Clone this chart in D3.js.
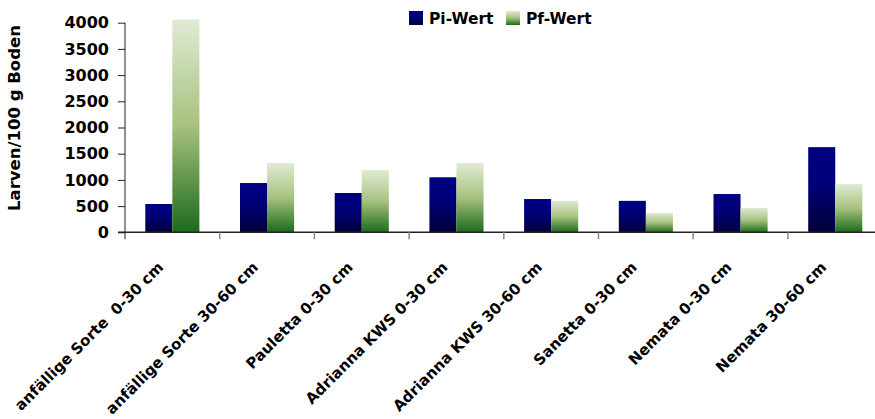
<!DOCTYPE html>
<html>
<head>
<meta charset="utf-8">
<script src="https://cdn.jsdelivr.net/npm/d3@7"></script>
<style>
  body { margin: 0; background: #fff; }
  svg text { font-family: "DejaVu Sans", sans-serif; font-weight: bold; fill: #000; }
</style>
</head>
<body>
<svg width="875" height="419"></svg>
<script>
// categories and series
const categories = ["anfällige Sorte  0-30 cm", "anfällige Sorte 30-60 cm", "Pauletta 0-30 cm",
  "Adrianna KWS 0-30 cm", "Adrianna KWS 30-60 cm", "Sanetta 0-30 cm", "Nemata 0-30 cm", "Nemata 30-60 cm"];
const series = ["Pi-Wert", "Pf-Wert"];
const piWert = [540, 940, 750, 1050, 635, 600, 730, 1625];
const pfWert = [4060, 1320, 1190, 1320, 600, 370, 465, 920];
const yTicks = [0, 500, 1000, 1500, 2000, 2500, 3000, 3500, 4000];

const svg = d3.select("svg");
const defs = svg.append("defs");

// gradients like the office chart
const gPi = defs.append("linearGradient").attr("id", "gPi").attr("x1", 0).attr("y1", 0).attr("x2", 0).attr("y2", 1);
gPi.append("stop").attr("offset", "0%").attr("stop-color", "#000082");
gPi.append("stop").attr("offset", "40%").attr("stop-color", "#00007a");
gPi.append("stop").attr("offset", "100%").attr("stop-color", "#00003a");
const gPf = defs.append("linearGradient").attr("id", "gPf").attr("x1", 0).attr("y1", 0).attr("x2", 0).attr("y2", 1);
gPf.append("stop").attr("offset", "0%").attr("stop-color", "#e0ebd4");
gPf.append("stop").attr("offset", "50%").attr("stop-color", "#a7c17e");
gPf.append("stop").attr("offset", "100%").attr("stop-color", "#1b6b1b");

const fills = ["url(#gPi)", "url(#gPf)"];

const x = d3.scaleBand().domain(categories).range([125, 882.6]);
const xs = d3.scaleBand().domain(series).range([20.3, x.bandwidth() - 20.3]);
const y = d3.scaleLinear().domain([0, 4000]).range([232.3, 22.7]);

// bars
const groups = svg.append("g").selectAll("g")
  .data(categories)
  .join("g")
  .attr("transform", d => `translate(${x(d)},0)`);

groups.selectAll("rect")
  .data((d, i) => [piWert[i], pfWert[i]].map((v, j) => ({ s: series[j], v: v, j: j })))
  .join("rect")
  .attr("x", d => xs(d.s))
  .attr("width", xs.bandwidth())
  .attr("y", d => y(d.v))
  .attr("height", d => y(0) - y(d.v))
  .attr("fill", d => fills[d.j]);

// y axis
const yAxis = svg.append("g")
  .attr("transform", "translate(125,0)")
  .call(d3.axisLeft(y).tickValues(yTicks).tickSize(7).tickPadding(9).tickFormat(d3.format("d")));
yAxis.select(".domain").attr("d", `M0,${y(4000)}V${y(0) + 7}`).attr("stroke", "#222");
yAxis.selectAll(".tick line").attr("stroke", "#222");
yAxis.selectAll("text").style("font-size", "16px");

// x axis
const xAxis = svg.append("g")
  .attr("transform", `translate(0,${y(0)})`);
xAxis.append("line")
  .attr("x1", 118).attr("x2", 875).attr("y1", 0).attr("y2", 0)
  .attr("stroke", "#222").attr("stroke-width", 1.5);
xAxis.selectAll("line.tk")
  .data(categories.slice(1))
  .join("line")
  .attr("class", "tk")
  .attr("x1", d => x(d)).attr("x2", d => x(d))
  .attr("y1", 0).attr("y2", 7)
  .attr("stroke", "#888").attr("stroke-width", 1.5);

xAxis.selectAll("text")
  .data(categories)
  .join("text")
  .attr("transform", d => `translate(${x(d) + x.bandwidth() / 2 - 8},${36}) rotate(-45)`)
  .attr("text-anchor", "end")
  .style("font-size", "15px")
  .style("white-space", "pre")
  .text(d => d);

// y title
svg.append("text")
  .attr("transform", "translate(20,118) rotate(-90)")
  .attr("text-anchor", "middle")
  .style("font-size", "16.5px")
  .text("Larven/100 g Boden");

// legend
const legendX = [409, 506];
const lg = svg.append("g").selectAll("g")
  .data(series)
  .join("g")
  .attr("transform", (d, i) => `translate(${legendX[i]},11)`);
lg.append("rect").attr("width", 14).attr("height", 14).attr("fill", (d, i) => fills[i]);
lg.append("text").attr("x", 20).attr("y", 13).style("font-size", "15.5px").text(d => d);
</script>
</body>
</html>
